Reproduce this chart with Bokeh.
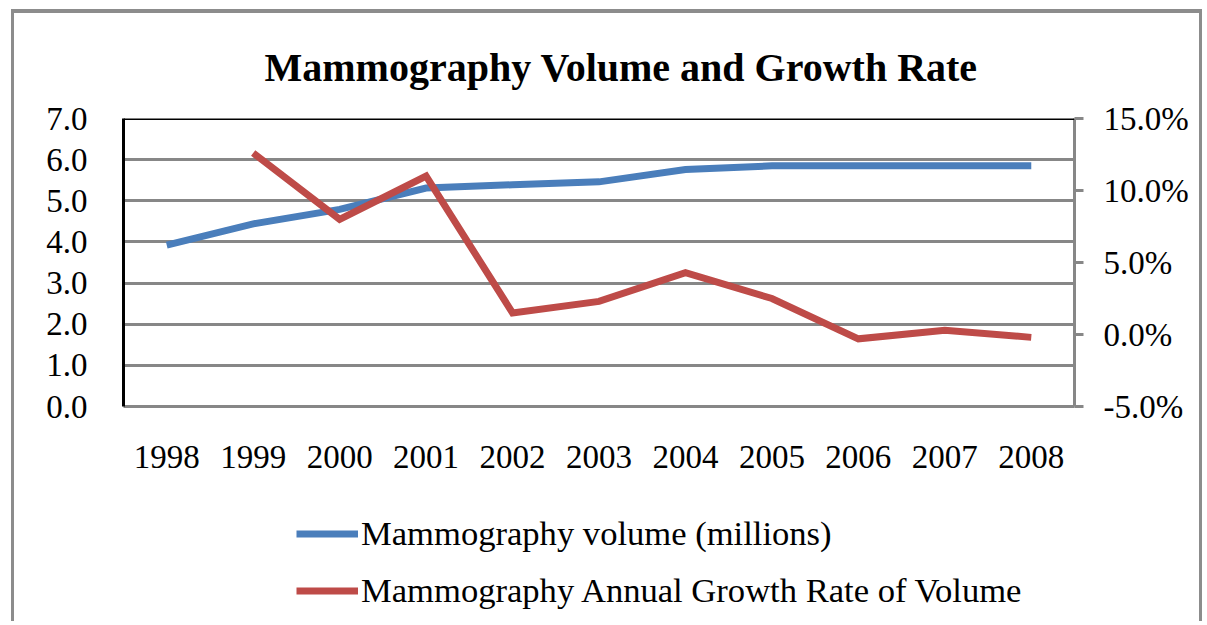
from bokeh.plotting import figure
from bokeh.layouts import column
from bokeh.models import (Range1d, LinearAxis, FixedTicker, PrintfTickFormatter,
                          Span, Legend, LegendItem, ColumnDataSource, Title)
from bokeh.embed import file_html
from bokeh.resources import INLINE

years = ["1998", "1999", "2000", "2001", "2002", "2003", "2004", "2005", "2006", "2007", "2008"]
volume = [3.92, 4.44, 4.79, 5.31, 5.39, 5.46, 5.76, 5.85, 5.85, 5.85, 5.85]
growth_years = ["1999", "2000", "2001", "2002", "2003", "2004", "2005", "2006", "2007", "2008"]
growth = [12.6, 8.0, 11.0, 1.5, 2.3, 4.3, 2.5, -0.3, 0.3, -0.2]
left_ticks = [0, 1, 2, 3, 4, 5, 6, 7]
right_ticks = [-5, 0, 5, 10, 15]
labels = ["Mammography volume (millions)", "Mammography Annual Growth Rate of Volume"]

FONT = "Liberation Serif"
GRAY = "#878787"
FRAME_GRAY = "#8c8c8c"
BLUE = "#4A7EBB"
RED = "#BE4B48"
TICK_SIZE = "33px"
W = 1191

p = figure(width=W, height=490, x_range=years, y_range=Range1d(0, 7),
           output_backend="svg", toolbar_location=None,
           min_border_left=109, min_border_right=131, min_border_top=105,
           min_border_bottom=97)
p.extra_y_ranges = {"pct": Range1d(-5, 15)}
p.outline_line_color = None
p.background_fill_color = "white"
p.border_fill_color = "white"
p.styles = {"border-top": f"4px solid {FRAME_GRAY}", "border-left": f"3px solid {FRAME_GRAY}",
            "border-right": f"3px solid {FRAME_GRAY}", "margin-left": "11px", "margin-top": "9px"}

t = Title(text="Mammography Volume and Growth Rate", text_font=FONT,
          text_font_size="40px", text_font_style="bold", align="left",
          standoff=58, offset=141, text_color="black")
p.add_layout(t, "above")

# grid
p.xgrid.grid_line_color = None
p.ygrid.ticker = FixedTicker(ticks=left_ticks)
p.ygrid.grid_line_color = GRAY
p.ygrid.grid_line_width = 3

# left axis
ya = p.yaxis[0]
ya.ticker = FixedTicker(ticks=left_ticks)
ya.formatter = PrintfTickFormatter(format="%.1f")
ya.axis_line_color = "black"
ya.axis_line_width = 3
ya.major_tick_line_color = None
ya.minor_tick_line_color = None
ya.major_label_text_font = FONT
ya.major_label_text_font_size = TICK_SIZE
ya.major_label_text_color = "black"
ya.major_label_standoff = 30

# x axis
xa = p.xaxis[0]
xa.axis_line_color = GRAY
xa.axis_line_width = 3
xa.major_tick_line_color = None
xa.minor_tick_line_color = None
xa.major_label_text_font = FONT
xa.major_label_text_font_size = TICK_SIZE
xa.major_label_text_color = "black"
xa.major_label_standoff = 33

# right axis
ra = LinearAxis(y_range_name="pct", ticker=FixedTicker(ticks=right_ticks),
                formatter=PrintfTickFormatter(format="%.1f%%"))
ra.axis_line_color = GRAY
ra.axis_line_width = 3
ra.major_tick_line_color = GRAY
ra.major_tick_line_width = 3
ra.major_tick_in = 0
ra.major_tick_out = 9
ra.minor_tick_line_color = None
ra.major_label_text_font = FONT
ra.major_label_text_font_size = TICK_SIZE
ra.major_label_text_color = "black"
ra.major_label_standoff = 20
p.add_layout(ra, "right")

top = Span(location=7, dimension="width", line_color="black", line_width=3)
p.add_layout(top)

src_v = ColumnDataSource(dict(x=years, y=volume))
src_g = ColumnDataSource(dict(x=growth_years, y=growth))
p.line("x", "y", source=src_v, line_color=BLUE, line_width=7, line_join="miter")
p.line("x", "y", source=src_g, line_color=RED, line_width=7, line_join="miter",
       y_range_name="pct")

# legend panel: a second canvas below the chart, inside the same outer border.
# The series are plotted there too, but outside its visible y range, so only the
# legend entries show.
q = figure(width=W, height=122, x_range=years, y_range=Range1d(100, 101),
           output_backend="svg", toolbar_location=None,
           min_border_left=0, min_border_right=0, min_border_top=0, min_border_bottom=0)
q.axis.visible = False
q.grid.visible = False
q.outline_line_color = None
q.border_fill_color = "white"
q.background_fill_color = "white"
q.styles = {"border-left": f"3px solid {FRAME_GRAY}", "border-right": f"3px solid {FRAME_GRAY}",
            "margin-left": "11px"}
lv = q.line("x", "y", source=src_v, line_color=BLUE, line_width=7)
lg = q.line("x", "y", source=src_g, line_color=RED, line_width=7)

legend = Legend(items=[LegendItem(label=labels[0], renderers=[lv]),
                       LegendItem(label=labels[1], renderers=[lg])],
                location=(173, 11), orientation="vertical")
legend.label_text_font = FONT
legend.label_text_font_size = "34.6px"
legend.label_text_color = "black"
legend.glyph_width = 62
legend.glyph_height = 39
legend.label_height = 39
legend.label_standoff = 3
legend.spacing = 18
legend.padding = 0
legend.margin = 0
legend.border_line_color = None
legend.background_fill_alpha = 0
q.add_layout(legend)

layout = column(p, q, spacing=0)
open("out.html", "w").write(file_html(layout, INLINE))
